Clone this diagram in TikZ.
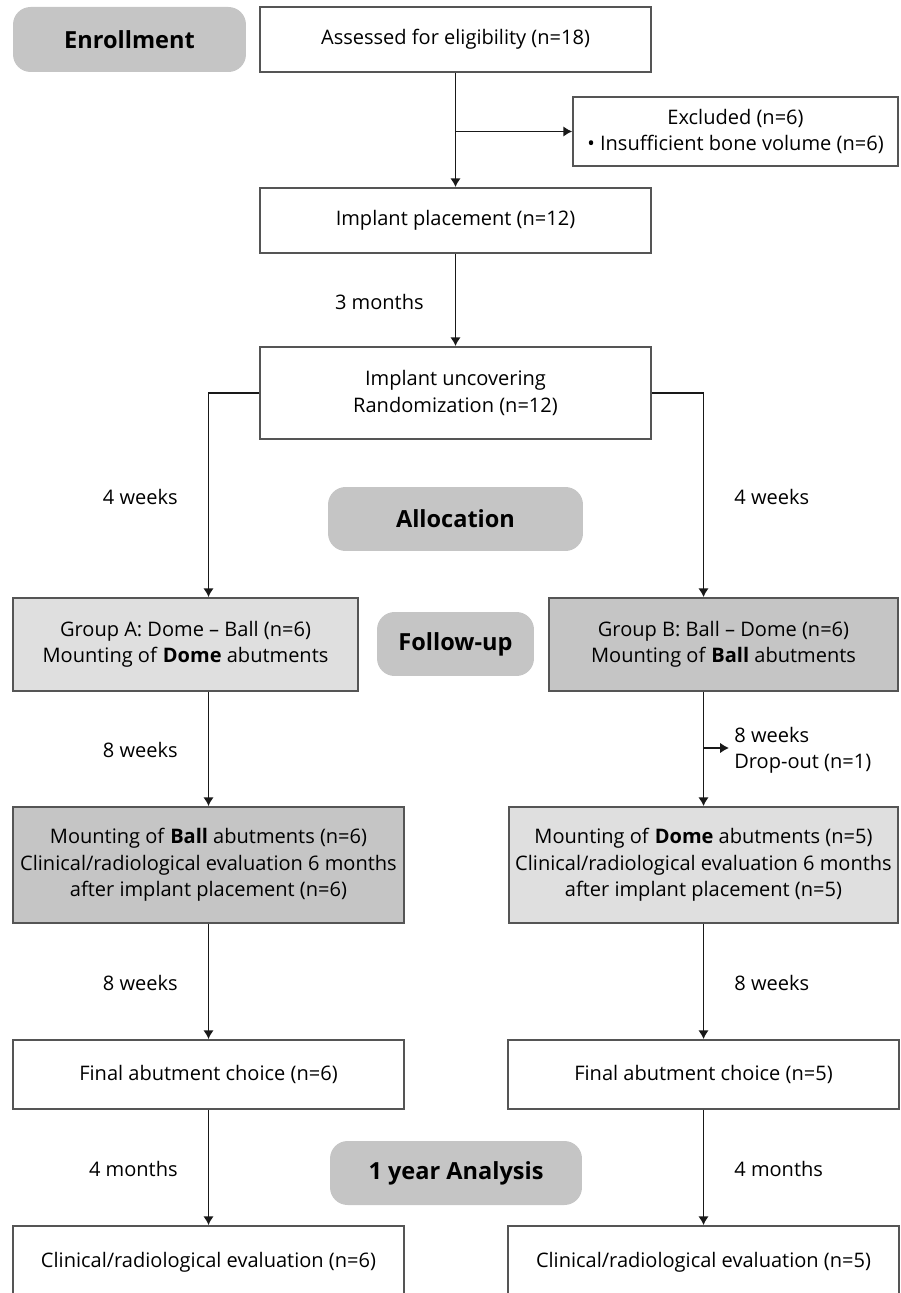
\documentclass[tikz,border=0pt]{standalone}
\usepackage{fontspec}
\setmainfont{Open Sans}
\usetikzlibrary{arrows.meta,positioning,calc}
\definecolor{lightgrey}{RGB}{223,223,223}
\definecolor{midgrey}{RGB}{197,197,197}
\definecolor{edgegrey}{RGB}{85,85,85}
\tikzset{
    stage/.style={draw=edgegrey, line width=1pt, fill=white, align=center, inner sep=2pt, font=\fontsize{11.4}{15}\selectfont},
    phase/.style={fill=midgrey, rounded corners=10pt, align=center, font=\fontsize{13.4}{15}\selectfont\bfseries},
    gap/.style={inner sep=0pt, font=\fontsize{11.4}{15}\selectfont},
    flow/.style={-{Latex[length=5pt,width=6pt]}, line width=1pt, draw=black!90},
}

\begin{document}
\begin{tikzpicture}[x=0.02cm, y=-0.02cm]
    \useasboundingbox (0,0) rectangle (901,1293);

    \node[phase, minimum width=4.66cm, minimum height=1.3cm] (enrol) at (129.5,39.5) {Enrollment};
    \node[stage, minimum width=7.82cm, minimum height=1.3cm] (assess) at (455.5,39.5) {Assessed for eligibility (n=18)};
    \node[stage, minimum width=6.5cm, minimum height=1.38cm] (excl) at (735.5,131.5) {Excluded (n=6)\\\textbullet\ Insufficient bone volume (n=6)};
    \node[stage, minimum width=7.82cm, minimum height=1.3cm] (place) at (455.5,220.5) {Implant placement (n=12)};
    \node[stage, minimum width=7.82cm, minimum height=1.84cm] (uncover) at (455.5,393) {Implant uncovering\\Randomization (n=12)};

    \node[phase, minimum width=5.1cm, minimum height=1.28cm] (alloc) at (455.5,519) {Allocation};
    \node[stage, fill=lightgrey, minimum width=6.9cm, minimum height=1.86cm] (grpA) at (185.5,644.5) {Group A: Dome -- Ball (n=6)\\Mounting of \textbf{Dome} abutments};
    \node[phase, minimum width=3.14cm, minimum height=1.28cm] (follow) at (455.5,644) {Follow-up};
    \node[stage, fill=midgrey, minimum width=6.98cm, minimum height=1.86cm] (grpB) at (723.5,644.5) {Group B: Ball -- Dome (n=6)\\Mounting of \textbf{Ball} abutments};

    \node[stage, fill=midgrey, minimum width=7.82cm, minimum height=2.32cm] (mountA) at (208.5,865) {Mounting of \textbf{Ball} abutments (n=6)\\Clinical/radiological evaluation 6 months\\after implant placement (n=6)};
    \node[stage, fill=lightgrey, minimum width=7.78cm, minimum height=2.32cm] (mountB) at (703.5,865) {Mounting of \textbf{Dome} abutments (n=5)\\Clinical/radiological evaluation 6 months\\after implant placement (n=5)};

    \node[stage, minimum width=7.82cm, minimum height=1.38cm] (finalA) at (208.5,1074.5) {Final abutment choice (n=6)};
    \node[stage, minimum width=7.82cm, minimum height=1.38cm] (finalB) at (703.5,1074.5) {Final abutment choice (n=5)};
    \node[phase, minimum width=5.04cm, minimum height=1.28cm] (year) at (456,1173) {1 year Analysis};
    \node[stage, minimum width=7.82cm, minimum height=1.44cm] (evalA) at (208.5,1262) {Clinical/radiological evaluation (n=6)};
    \node[stage, minimum width=7.82cm, minimum height=1.44cm] (evalB) at (703.5,1262) {Clinical/radiological evaluation (n=5)};

    \node[gap, anchor=east] (t1) at (424,302) {3 months};
    \node[gap, anchor=east] (t2) at (178,497) {4 weeks};
    \node[gap, anchor=west] (t3) at (734,497) {4 weeks};
    \node[gap, anchor=east] (t4) at (178,750) {8 weeks};
    \node[gap, anchor=east] (t5) at (178,983) {8 weeks};
    \node[gap, anchor=west] (t6) at (734,983) {8 weeks};
    \node[gap, anchor=east] (t7) at (178,1169) {4 months};
    \node[gap, anchor=west] (t8) at (734,1169) {4 months};

    \coordinate (drop) at (703.5,748);
    \coordinate (dropend) at (729,748);
    \node[gap, anchor=west, align=left] (droplbl) at (734,750) {8 weeks\\Drop-out (n=1)};

    \draw[flow] (assess) -- (place);
    \draw[flow] (assess.south |- excl.west) -- (excl.west);
    \draw[flow] (place) -- (uncover);
    \draw[flow] (uncover.west) -| (grpA.north -| mountA.north);
    \draw[flow] (uncover.east) -| (grpB.north -| mountB.north);
    \draw[flow] (grpA.south -| mountA.north) -- (mountA.north);
    \draw[flow] (grpB.south -| mountB.north) -- (mountB.north);
    \draw[flow] (drop) -- (dropend);
    \draw[flow] (mountA) -- (finalA);
    \draw[flow] (mountB) -- (finalB);
    \draw[flow] (finalA) -- (evalA);
    \draw[flow] (finalB) -- (evalB);
\end{tikzpicture}
\end{document}
